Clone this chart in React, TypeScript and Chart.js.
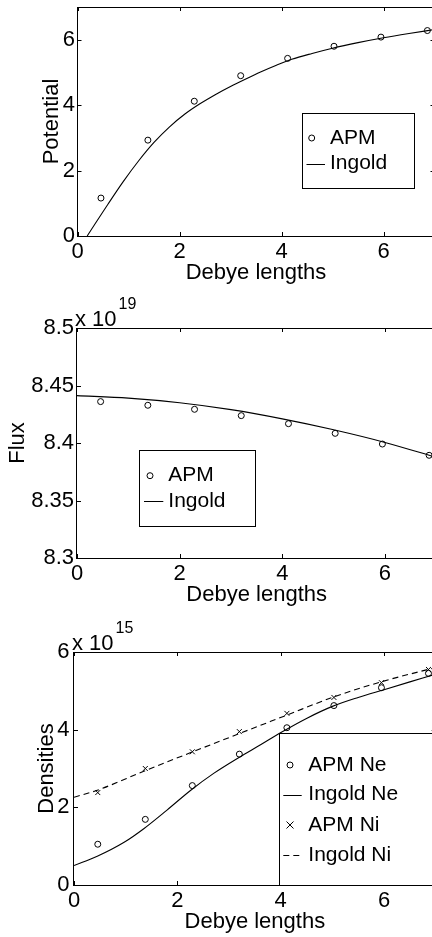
import React, { useEffect, useRef } from "react";
import { Chart, registerables } from "chart.js";

Chart.register(...registerables);

const FONT = '"Liberation Sans", Arial, Helvetica, sans-serif';
Chart.defaults.font.family = FONT;
Chart.defaults.color = "#000";

// ---------- data ----------
const xTickValues = [0, 2, 4, 6];

const debyeAPM = [0.46, 1.38, 2.29, 3.2, 4.12, 5.03, 5.95, 6.86];

// Panel 1: potential
const potentialAPM = [1.16, 2.93, 4.12, 4.9, 5.43, 5.8, 6.08, 6.28];
const debyeIngoldPotential = [0.19, 0.6, 0.9, 1.2, 1.5, 1.8, 2.1, 2.4, 2.7, 3.0, 3.3, 3.6, 3.9, 4.2, 4.6, 5.0, 5.5, 6.0, 6.5, 7.0];
const potentialIngold = [0, 0.98, 1.67, 2.3, 2.86, 3.33, 3.72, 4.04, 4.32, 4.57, 4.8, 5.02, 5.22, 5.4, 5.58, 5.74, 5.91, 6.06, 6.19, 6.31];
const potentialTicks = [0, 2, 4, 6];

// Panel 2: flux (x 10^19)
const fluxAPM = [8.436, 8.4328, 8.4293, 8.4238, 8.4168, 8.4084, 8.3991, 8.3893];
const debyeIngoldFlux = [0, 1, 2, 3, 4, 5, 6, 7];
const fluxIngold = [8.4412, 8.439, 8.435, 8.429, 8.421, 8.4115, 8.4005, 8.3875];
const fluxTicks = [8.3, 8.35, 8.4, 8.45, 8.5];

// Panel 3: densities (x 10^15)
const densNeAPM = [1.05, 1.69, 2.56, 3.37, 4.05, 4.62, 5.08, 5.45];
const densNiAPM = [2.38, 3.0, 3.43, 3.95, 4.42, 4.83, 5.21, 5.55];
const debyeIngoldNe = [0, 0.45, 0.97, 1.35, 1.8, 2.26, 2.71, 3.2, 3.61, 3.97, 4.5, 5.0, 5.5, 6.0, 6.5, 7.0];
const densNeIngold = [0.5, 0.74, 1.1, 1.45, 1.93, 2.44, 2.88, 3.29, 3.61, 3.9, 4.29, 4.6, 4.83, 5.03, 5.23, 5.43];
const debyeIngoldNi = [0, 0.45, 1.35, 2.26, 3.2, 4.11, 5.02, 5.94, 6.85, 7.0];
const densNiIngold = [2.26, 2.44, 2.93, 3.41, 3.9, 4.37, 4.84, 5.23, 5.55, 5.6];
const densTicks = [0, 2, 4, 6];

const zip = (xs: number[], ys: number[]) => xs.map((x, i) => ({ x, y: ys[i] }));

// ---------- layout ----------
const CW = 460;
const TICK_FONT = 22;
const TITLE_FONT = 22;
const LEGEND_FONT = 21;

type LegendItem = { label: string; ds: number };
type Panel = {
  top: number;
  height: number;
  left: number;
  plotTop: number;
  plotBottom: number;
  plotRight: number;
  yTitleMid: number;
  yTickPad: number;
  yMin: number;
  yMax: number;
  yTicks: number[];
  yTitle: string;
  exponent?: string;
  legend: {
    x: number; y: number; w: number; h: number;
    rows: number[]; markerX: number; lineX0: number; lineX1: number; textX: number;
    items: LegendItem[];
  };
  datasets: any[];
};

const circleDs = (label: string, data: any[]) => ({
  label, data, showLine: false, pointStyle: "circle", pointRadius: 3, borderWidth: 1,
  borderColor: "#000", backgroundColor: "rgba(0,0,0,0)",
});
const crossDs = (label: string, data: any[]) => ({
  label, data, showLine: false, pointStyle: "crossRot", pointRadius: 3.5, borderWidth: 1,
  borderColor: "#000", backgroundColor: "#000",
});
const lineDs = (label: string, data: any[], dash: number[] = []) => ({
  label, data, showLine: true, pointRadius: 0, borderWidth: 1.1, borderColor: "#000",
  backgroundColor: "#000", borderDash: dash, cubicInterpolationMode: "monotone", fill: false,
});

const panels: Panel[] = [
  {
    top: 0, height: 295, left: 77.5, plotTop: 7, plotBottom: 236, plotRight: 434.5,
    yTitleMid: 52.4, yTickPad: 2.5, yMin: 0, yMax: 7, yTicks: potentialTicks, yTitle: "Potential",
    legend: {
      x: 302, y: 113, w: 112, h: 75, rows: [138, 163.5], markerX: 311.7, lineX0: 306.5, lineX1: 325, textX: 330,
      items: [{ label: "APM", ds: 0 }, { label: "Ingold", ds: 1 }],
    },
    datasets: [
      circleDs("APM", zip(debyeAPM, potentialAPM)),
      lineDs("Ingold", zip(debyeIngoldPotential, potentialIngold)),
    ],
  },
  {
    top: 295, height: 315, left: 77, plotTop: 33, plotBottom: 263, plotRight: 436.3,
    yTitleMid: 18.4, yTickPad: 3, yMin: 8.3, yMax: 8.5, yTicks: fluxTicks, yTitle: "Flux", exponent: "19",
    legend: {
      x: 139, y: 155, w: 116, h: 76, rows: [180.7, 206.3], markerX: 150, lineX0: 144, lineX1: 163.3, textX: 168.3,
      items: [{ label: "APM", ds: 0 }, { label: "Ingold", ds: 1 }],
    },
    datasets: [
      circleDs("APM", zip(debyeAPM, fluxAPM)),
      lineDs("Ingold", zip(debyeIngoldFlux, fluxIngold)),
    ],
  },
  {
    top: 610, height: 327, left: 74, plotTop: 42, plotBottom: 275, plotRight: 435.7,
    yTitleMid: 47.4, yTickPad: 4.5, yMin: 0, yMax: 6, yTicks: densTicks, yTitle: "Densities", exponent: "15",
    legend: {
      x: 279.3, y: 123.3, w: 220, h: 151.7, rows: [155, 184.5, 215, 245], markerX: 290, lineX0: 283.3, lineX1: 301.7, textX: 308.3,
      items: [
        { label: "APM Ne", ds: 0 },
        { label: "Ingold Ne", ds: 1 },
        { label: "APM Ni", ds: 2 },
        { label: "Ingold Ni", ds: 3 },
      ],
    },
    datasets: [
      circleDs("APM Ne", zip(debyeAPM, densNeAPM)),
      lineDs("Ingold Ne", zip(debyeIngoldNe, densNeIngold)),
      crossDs("APM Ni", zip(debyeAPM, densNiAPM)),
      lineDs("Ingold Ni", zip(debyeIngoldNi, densNiIngold), [6, 4]),
    ],
  },
];

function drawMarker(ctx: CanvasRenderingContext2D, style: string, x: number, y: number, r: number) {
  ctx.beginPath();
  if (style === "crossRot") {
    ctx.moveTo(x - r, y - r); ctx.lineTo(x + r, y + r);
    ctx.moveTo(x + r, y - r); ctx.lineTo(x - r, y + r);
  } else {
    ctx.arc(x, y, r, 0, Math.PI * 2);
  }
  ctx.stroke();
}

function makePlugin(p: Panel) {
  return {
    id: "matlabFrame",
    afterDatasetsDraw(chart: any) {
      const ctx: CanvasRenderingContext2D = chart.ctx;
      const { left, top, right, bottom } = chart.chartArea;
      const xs = chart.scales.x;
      const ys = chart.scales.y;
      ctx.save();
      ctx.strokeStyle = "#000";
      ctx.lineWidth = 1;
      ctx.setLineDash([]);
      // frame
      ctx.strokeRect(Math.round(left) - 0.5, Math.round(top) + 0.5, Math.round(right) - Math.round(left), Math.round(bottom) - Math.round(top));
      // inward ticks
      const TL = 4;
      ctx.beginPath();
      xs.ticks.forEach((t: any) => {
        const px = Math.round(xs.getPixelForValue(t.value)) + 0.5;
        ctx.moveTo(px, bottom); ctx.lineTo(px, bottom - TL);
        ctx.moveTo(px, top); ctx.lineTo(px, top + TL);
      });
      ys.ticks.forEach((t: any) => {
        const py = Math.round(ys.getPixelForValue(t.value)) + 0.5;
        ctx.moveTo(left, py); ctx.lineTo(left + TL, py);
        ctx.moveTo(right, py); ctx.lineTo(right - TL, py);
      });
      ctx.stroke();

      // exponent label
      if (p.exponent) {
        ctx.fillStyle = "#000";
        ctx.textBaseline = "alphabetic";
        ctx.textAlign = "left";
        ctx.font = `${TITLE_FONT}px ${FONT}`;
        const bx = left - 2;
        const by = top - 2;
        ctx.fillText("x 10", bx, by);
        const w = ctx.measureText("x 10").width;
        ctx.font = `16px ${FONT}`;
        ctx.fillText(p.exponent, bx + w + 2, by - 17);
      }

      // legend
      const L = p.legend;
      ctx.fillStyle = "#fff";
      ctx.fillRect(L.x, L.y, L.w, L.h);
      ctx.strokeStyle = "#000";
      ctx.strokeRect(Math.round(L.x) + 0.5, Math.round(L.y) + 0.5, Math.round(L.w), Math.round(L.h));
      ctx.font = `${LEGEND_FONT}px ${FONT}`;
      ctx.textBaseline = "middle";
      ctx.textAlign = "left";
      L.items.forEach((it, i) => {
        const ds = chart.data.datasets[it.ds];
        const y = L.rows[i];
        ctx.strokeStyle = "#000";
        ctx.lineWidth = 1;
        if (ds.showLine) {
          ctx.setLineDash(ds.borderDash || []);
          ctx.beginPath();
          ctx.moveTo(L.lineX0, Math.round(y) + 0.5);
          ctx.lineTo(L.lineX1, Math.round(y) + 0.5);
          ctx.stroke();
          ctx.setLineDash([]);
        } else {
          drawMarker(ctx, ds.pointStyle, L.markerX, y, ds.pointRadius);
        }
        ctx.fillStyle = "#000";
        ctx.fillText(it.label, L.textX, y);
      });
      ctx.restore();
    },
  };
}

function PanelChart({ p }: { p: Panel }) {
  const ref = useRef<HTMLCanvasElement | null>(null);
  useEffect(() => {
    if (!ref.current) return;
    const xAxisH = p.height - p.plotBottom;
    const titleHalf = (TITLE_FONT * 1.2) / 2;
    const chart = new Chart(ref.current, {
      type: "scatter",
      data: { datasets: p.datasets },
      options: {
        responsive: false,
        animation: false,
        events: [],
        layout: { padding: { top: p.plotTop, right: CW - p.plotRight, bottom: 0, left: 0 } },
        plugins: { legend: { display: false }, tooltip: { enabled: false } },
        scales: {
          x: {
            type: "linear",
            min: 0,
            max: 7,
            afterBuildTicks: (s: any) => { s.ticks = xTickValues.map((v) => ({ value: v })); },
            afterFit: (s: any) => { s.height = xAxisH; s.paddingLeft = 0; s.paddingRight = 0; },
            grid: { display: false, drawTicks: false },
            border: { display: false },
            ticks: { color: "#000", font: { size: TICK_FONT }, padding: 3, maxRotation: 0, autoSkip: false, callback: (v: any) => String(v) },
            title: {
              display: true, text: "Debye lengths", color: "#000", font: { size: TITLE_FONT },
              padding: { top: 0, bottom: xAxisH - 36.5 - titleHalf },
            },
          },
          y: {
            type: "linear",
            min: p.yMin,
            max: p.yMax,
            afterBuildTicks: (s: any) => { s.ticks = p.yTicks.map((v) => ({ value: v })); },
            afterFit: (s: any) => { s.width = p.left; s.paddingTop = 0; s.paddingBottom = 0; },
            grid: { display: false, drawTicks: false },
            border: { display: false },
            ticks: { color: "#000", font: { size: TICK_FONT }, padding: p.yTickPad, autoSkip: false, callback: (v: any) => String(v) },
            title: {
              display: true, text: p.yTitle, color: "#000", font: { size: TITLE_FONT },
              padding: { top: p.yTitleMid - titleHalf, bottom: 0 },
            },
          },
        },
      } as any,
      plugins: [makePlugin(p)],
    });
    return () => chart.destroy();
  }, [p]);
  return (
    <canvas
      ref={ref}
      width={CW}
      height={p.height}
      style={{ position: "absolute", left: 0, top: p.top, width: CW, height: p.height, display: "block" }}
    />
  );
}

export default function App() {
  return (
    <div
      style={{
        position: "fixed", left: 0, top: 0, width: 432, height: 937, overflow: "hidden", background: "#fff",
      }}
    >
      {panels.map((p, i) => (
        <PanelChart key={i} p={p} />
      ))}
    </div>
  );
}
